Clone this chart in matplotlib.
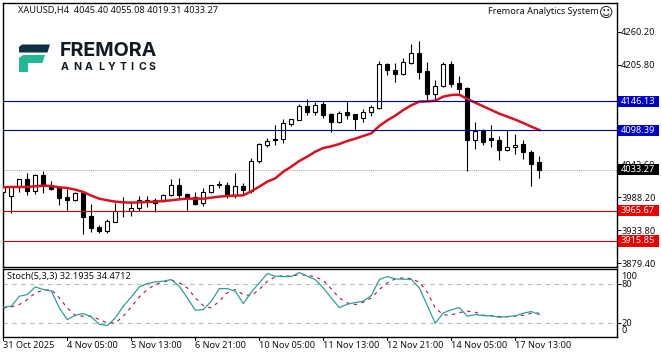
import matplotlib
matplotlib.use("Agg")
from matplotlib import pyplot as plt
from matplotlib.patches import Polygon, Rectangle
from matplotlib.transforms import ScaledTranslation

plt.rcParams['font.family'] = ['Noto Sans', 'DejaVu Sans']

W, H = 662, 357

# candles, oldest first
opens = [3997.1, 3990.5, 4004.2, 4017.4, 3998.7, 4024.0, 4005.3, 4002.6, 3987.7, 3983.3,
         3994.3, 3957.0, 3938.3, 3932.8, 3947.6, 3964.6, 3964.6, 3969.6, 3982.8, 3982.8,
         3981.7, 3991.0, 4007.5, 3992.7, 3987.7, 3977.8, 3995.9, 4008.0, 4008.0, 3991.0,
         4006.9, 3998.2, 4047.6, 4073.4, 4083.3, 4083.3, 4109.1, 4115.7, 4137.7, 4128.9,
         4141.5, 4125.0, 4112.4, 4127.8, 4124.5, 4117.9, 4127.8, 4135.5, 4207.5, 4197.0,
         4190.4, 4209.7, 4225.0, 4195.4, 4157.5, 4171.8, 4207.5, 4175.6, 4167.9, 4081.6,
         4097.6, 4084.9, 4082.2, 4065.2, 4070.1, 4075.6, 4061.9, 4045.40]
highs = [4009.7, 4004.2, 4018.5, 4027.3, 4025.6, 4031.1, 4014.6, 4005.3, 4000.9, 3997.0,
         3998.2, 3976.7, 3942.1, 3951.5, 3978.9, 3988.3, 3981.7, 3989.9, 3989.9, 3986.0,
         3992.7, 4017.4, 4019.6, 3994.3, 3996.5, 4002.6, 4008.0, 4015.2, 4013.5, 4028.4,
         4010.8, 4052.5, 4077.8, 4085.0, 4106.9, 4116.8, 4116.3, 4141.5, 4149.8, 4145.4,
         4145.9, 4126.1, 4130.5, 4145.9, 4124.5, 4132.7, 4139.9, 4211.9, 4208.6, 4208.6,
         4217.3, 4240.4, 4245.4, 4210.2, 4180.5, 4210.2, 4212.4, 4187.7, 4169.0, 4111.3,
         4099.8, 4106.9, 4088.2, 4098.7, 4092.1, 4082.2, 4065.2, 4055.08]
lows = [3989.9, 3962.4, 3997.1, 3991.6, 3993.2, 3995.4, 4000.0, 3975.1, 3966.8, 3982.2,
        3927.3, 3930.6, 3928.9, 3928.9, 3947.6, 3955.9, 3956.9, 3964.6, 3972.3, 3963.5,
        3980.6, 3989.9, 3986.0, 3966.8, 3975.1, 3973.4, 3994.3, 4002.6, 3986.0, 3986.0,
        3991.6, 3994.3, 4043.8, 4071.2, 4074.0, 4077.8, 4105.3, 4114.6, 4123.9, 4123.9,
        4119.0, 4095.9, 4110.8, 4117.4, 4098.1, 4112.4, 4122.3, 4133.3, 4189.9, 4178.3,
        4189.9, 4208.0, 4183.3, 4147.0, 4148.1, 4170.1, 4169.0, 4159.1, 4031.1, 4067.9,
        4074.5, 4070.7, 4049.8, 4064.6, 4059.7, 4051.4, 4006.9, 4019.31]
closes = [4005.3, 4004.2, 4017.4, 3998.2, 4024.0, 4008.0, 4001.5, 3986.6, 3983.9, 3994.3,
          3955.9, 3937.7, 3932.2, 3948.2, 3965.7, 3965.7, 3969.6, 3982.8, 3981.1, 3977.8,
          3991.0, 4007.5, 3991.0, 3986.0, 3977.3, 3995.9, 4007.5, 4009.1, 3991.6, 4006.4,
          3999.8, 4048.2, 4075.1, 4081.1, 4081.6, 4109.7, 4116.3, 4137.7, 4128.9, 4140.4,
          4123.9, 4112.4, 4126.1, 4123.9, 4117.4, 4127.8, 4136.0, 4207.5, 4198.1, 4190.4,
          4210.2, 4225.0, 4194.8, 4157.5, 4170.6, 4206.9, 4175.0, 4166.8, 4081.6, 4097.6,
          4079.4, 4081.6, 4065.2, 4070.1, 4074.5, 4061.9, 4043.2, 4033.27]
ma_line = [4004.2, 4004.8, 4004.8, 4004.8, 4005.9, 4006.9, 4006.4, 4004.2, 4003.1, 4000.4,
           3996.5, 3990.5, 3985.5, 3982.8, 3980.6, 3979.5, 3978.9, 3979.5, 3980.0, 3980.6,
           3981.7, 3982.8, 3984.4, 3985.5, 3985.5, 3985.5, 3987.2, 3988.8, 3989.9, 3990.5,
           3991.0, 3997.6, 4005.3, 4013.5, 4019.0, 4030.0, 4038.2, 4047.6, 4054.7, 4063.0,
           4069.0, 4071.8, 4075.6, 4080.5, 4084.4, 4088.8, 4093.2, 4105.3, 4114.6, 4122.3,
           4131.6, 4139.3, 4145.4, 4145.9, 4147.0, 4153.6, 4156.4, 4156.9, 4149.8, 4143.7,
           4137.7, 4131.6, 4125.6, 4120.7, 4115.7, 4110.2, 4104.2, 4098.7]
stoch_k = [43.5, 45.1, 60.4, 63.0, 74.8, 70.7, 68.7, 42.5, 24.5, 31.2, 33.8, 28.7, 17.4, 15.3,
           27.1, 45.1, 59.4, 74.8, 79.9, 82.5, 83.5, 86.1, 75.8, 57.9, 38.9, 39.9, 52.8, 72.2,
           72.2, 68.1, 49.2, 66.6, 81.0, 95.3, 91.2, 90.7, 90.7, 96.9, 91.2, 86.1, 73.3, 57.9,
           43.0, 48.1, 50.7, 52.8, 61.5, 86.1, 90.7, 87.1, 86.6, 86.6, 73.3, 46.1, 18.9, 34.8,
           39.4, 43.0, 29.7, 32.2, 30.7, 30.2, 28.1, 29.2, 30.2, 34.3, 36.9, 32.19]
stoch_d = [42.5, 44.0, 47.6, 55.3, 65.6, 69.7, 70.7, 57.9, 42.5, 30.7, 29.7, 29.7, 24.5, 19.4,
           19.4, 29.7, 44.0, 59.4, 70.7, 78.4, 82.5, 85.0, 81.0, 73.3, 57.9, 46.1, 42.5, 52.8,
           65.6, 70.7, 63.0, 61.5, 70.7, 83.5, 90.2, 92.2, 91.2, 93.8, 92.8, 90.2, 85.0, 71.7,
           57.9, 50.2, 47.6, 51.2, 57.9, 70.7, 81.0, 87.1, 88.7, 87.6, 82.0, 66.6, 42.5, 31.7,
           31.7, 35.3, 37.4, 35.8, 31.2, 30.7, 29.2, 28.7, 29.7, 31.2, 34.3, 34.47]

price_ticks = [4260.20, 4205.80, 4042.60, 3988.20, 3933.80, 3879.40]
blue_levels = [4146.13, 4098.39]
red_levels = [3965.67, 3915.85]
last_price = 4033.27
stoch_ticks = [100, 80, 20, 0]
stoch_levels = [80, 20]
time_pos = [0, 8, 16, 24, 32, 40, 48, 56, 64]
time_labels = ['31 Oct 2025', '4 Nov 05:00', '5 Nov 13:00', '6 Nov 21:00', '10 Nov 05:00',
               '11 Nov 13:00', '12 Nov 21:00', '14 Nov 05:00', '17 Nov 13:00']

BLUE = '#000099'
RED = '#cc0000'
TXT = '#111111'
FS = 6.6


def axes_at(left, top, right, bottom):
    return fig.add_axes([left / W, 1 - bottom / H, (right - left) / W, (bottom - top) / H])


def price_tag(ax, price, color):
    # 41px by 11px box on the price scale
    tr = ax.get_yaxis_transform()
    ax.add_patch(Rectangle((1.0025, price - 9.5), 0.0668, 18.5, fc=color, ec='none',
                           transform=tr, clip_on=False, zorder=9))
    ax.text(1.007, price, '%.2f' % price, color='white', fontsize=FS, va='center', ha='left',
            transform=tr, zorder=10, clip_on=False)


fig = plt.figure(figsize=(W / 100, H / 100), dpi=100, facecolor='white')

ax = axes_at(2.5, 2.5, 616.5, 266.5)
ax2 = axes_at(2.5, 268.5, 616.5, 336.5)

xs = list(range(len(closes)))
for a in (ax, ax2):
    a.set_xlim(-0.1, 76.65)
    a.yaxis.tick_right()
    a.tick_params(axis='y', length=3, width=0.7, pad=0.3, labelsize=FS, labelcolor=TXT)
    a.tick_params(axis='x', length=0)
    a.set_xticks([])
    for s in a.spines.values():
        s.set_linewidth(1.0)

# main panel
ax.set_ylim(3873.7, 4308.8)
ax.set_yticks(price_ticks)
ax.set_yticklabels(['%.2f' % p for p in price_ticks])

ax.axhline(last_price, color='#aaaaaa', lw=0.7, ls=(0, (1, 1)), zorder=1)
ax.vlines(xs, lows, highs, color='black', lw=0.8, zorder=2)
bottoms = [min(o, c) for o, c in zip(opens, closes)]
heights = [abs(o - c) for o, c in zip(opens, closes)]
faces = ['white' if c >= o else 'black' for o, c in zip(opens, closes)]
ax.bar(xs, heights, bottom=bottoms, width=0.5, color=faces, edgecolor='black', lw=0.8, zorder=3)
ax.plot(xs, ma_line, color='#dd1020', lw=1.8, zorder=4)
for p in blue_levels:
    ax.axhline(p, color=BLUE, lw=0.8, zorder=5)
    price_tag(ax, p, '#0000cc')
for p in red_levels:
    ax.axhline(p, color=RED, lw=0.8, zorder=5)
    price_tag(ax, p, '#ee0000')
price_tag(ax, last_price, 'black')

# stochastic panel
ax2.set_ylim(-1.5, 103.1)
ax2.set_yticks(stoch_ticks)
ax2.set_yticklabels([str(v) for v in stoch_ticks])
# the 100 and 0 labels sit inside the panel edge, without a tick mark
shifts = {100: -3.6, 0: 4.0}
for tick, v in zip(ax2.yaxis.get_major_ticks(), stoch_ticks):
    if v in shifts:
        tick.tick2line.set_visible(False)
        lab = tick.label2
        lab.set_transform(lab.get_transform() + ScaledTranslation(0, shifts[v] / 72, fig.dpi_scale_trans))
for lv in stoch_levels:
    ax2.axhline(lv, color='#bbbbbb', lw=0.8, ls=(0, (4, 4)), zorder=1)
ax2.plot(xs, stoch_d, color='#b01040', lw=0.8, ls=(0, (3, 4)), zorder=2)
ax2.plot(xs, stoch_k, color='#2aa198', lw=0.9, zorder=3)

# overlay in pixel coordinates for the header, logo and time scale
ov = fig.add_axes([0, 0, 1, 1], facecolor='none', zorder=20)
ov.set_xlim(0, W)
ov.set_ylim(H, 0)
ov.axis('off')

ov.text(18, 10, 'XAUUSD,H4  4045.40 4055.08 4019.31 4033.27', fontsize=FS, color=TXT, va='center')
ov.text(488, 11, 'Fremora Analytics System', fontsize=FS, color=TXT, va='center')
ov.text(605.7, 12.5, '\u263a', fontsize=10, color=TXT, va='center', ha='center', family='DejaVu Sans')
ov.text(7, 277, 'Stoch(5,3,3) 32.1935 34.4712', fontsize=FS, color=TXT, va='center')

ov.add_patch(Polygon([(19, 47), (22, 44.5), (50, 44.5), (47.5, 52.5), (19, 52.5)], fc='#0f2f44', ec='none'))
ov.add_patch(Polygon([(19, 58), (23, 55), (45, 55), (42.5, 63), (28, 63), (28, 72), (19, 72)],
                     fc='#25b794', ec='none'))
ov.text(60, 51.5, 'FREMORA', fontsize=14.2, fontweight='bold', family='Inter', color='#111a22', va='center')
logo_x = [65, 77, 89, 101, 112, 123, 132, 142, 152]
for lx, ch in zip(logo_x, 'ANALYTICS'):
    ov.text(lx, 67, ch, fontsize=7.6, fontweight='bold', family='Inter', color='#111a22', va='center', ha='center')

for t, lab in zip(time_pos, time_labels):
    px = 3.3 + 8 * t
    ov.plot([px, px], [336.5, 340], color='black', lw=0.7)
    ov.text(px - 0.5, 345, lab, fontsize=FS, color=TXT, va='center', ha='left')

fig.savefig('out.png', dpi=100)
